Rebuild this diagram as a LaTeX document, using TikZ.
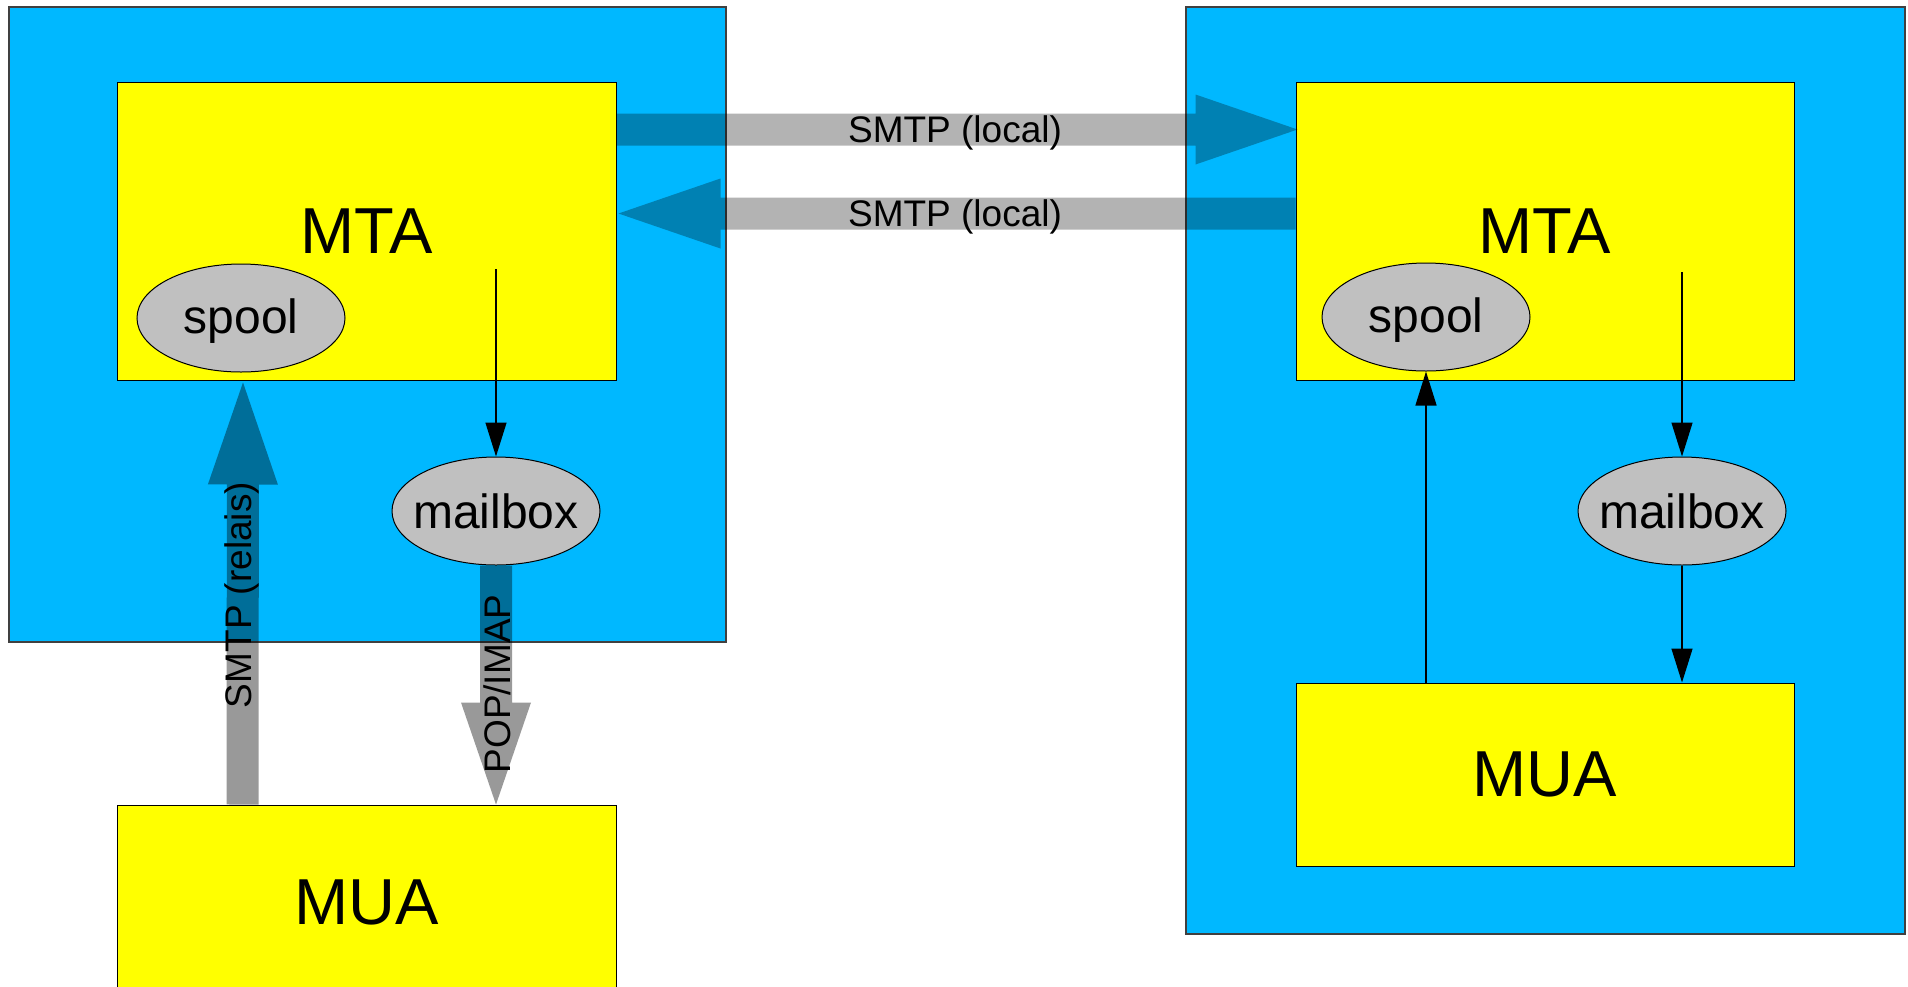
\documentclass[tikz,border=0pt]{standalone}
\usepackage{fontspec}
\setmainfont{Liberation Sans}
\usetikzlibrary{shapes.geometric,arrows.meta,calc}
\definecolor{boxblue}{RGB}{0,184,255}
\definecolor{agentyellow}{RGB}{255,255,0}
\definecolor{ovalgray}{RGB}{192,192,192}
\definecolor{lightarrow}{RGB}{179,179,179}
\definecolor{darkarrow}{RGB}{153,153,153}
\definecolor{hostedge}{RGB}{64,64,64}
\newcommand\fatarrow[3]{%
  \coordinate (fah) at ($(#2)!102pt!(#1)$);
  \fill[#3] ($(#1)!16pt!90:(#2)$) -- ($(fah)!16pt!90:(#2)$) -- ($(fah)!35pt!90:(#2)$) -- (#2)
    -- ($(fah)!35pt!-90:(#2)$) -- ($(fah)!16pt!-90:(#2)$) -- ($(#1)!16pt!-90:(#2)$) -- cycle;}
\begin{document}
\begin{tikzpicture}[x=1pt,y=-1pt,
  hostbox/.style={draw=hostedge, line width=1.3pt, fill=boxblue, inner sep=0pt, rectangle},
  agentbox/.style={draw=black, line width=1pt, fill=agentyellow, inner sep=0pt, rectangle, font=\fontsize{65}{78}\selectfont},
  store/.style={draw=black, line width=1pt, fill=ovalgray, ellipse, inner sep=0pt, minimum width=208pt, minimum height=108pt},
  storetext/.style={font=\fontsize{48}{58}\selectfont, inner sep=0pt},
  flow/.style={draw=black, line width=1.3pt, -{Triangle[length=34pt,width=21pt]}},
  fatlight/.style={fill=lightarrow},
  fatdark/.style={fill=darkarrow},
  proto/.style={font=\fontsize{37}{44}\selectfont, inner sep=0pt}]
\useasboundingbox (0,0) rectangle (1908,986);
% hosts
\node[hostbox, minimum width=717pt, minimum height=635pt] (hostL) at (367.5,324.5) {};
\node[hostbox, minimum width=719pt, minimum height=927pt] (hostR) at (1545.5,470.5) {};
% agents
\node[agentbox, minimum width=499pt, minimum height=298pt] (mtaL) at (366.5,231) {MTA};
\node[agentbox, minimum width=498pt, minimum height=298pt] (mtaR) at (1545,231) {MTA};
\node[agentbox, minimum width=499pt, minimum height=194pt] (muaL) at (366.5,902) {MUA};
\node[agentbox, minimum width=498pt, minimum height=183pt] (muaR) at (1545,774.5) {MUA};
% stores
\node[store] (spoolL) at (241,318) {};
\node[storetext] (spoolLt) at ($(spoolL.center)+(0,3)$) {spool};
\node[store] (spoolR) at (1426,317) {};
\node[storetext] (spoolRt) at ($(spoolR.center)+(0,3)$) {spool};
\node[store] (mailL) at (496,511) {};
\node[storetext] (mailLt) at (mailL.center) {mailbox};
\node[store] (mailR) at (1682,511) {};
\node[storetext] (mailRt) at (mailR.center) {mailbox};
% thin connectors
\coordinate (mtaLout) at (496,269);
\coordinate (mtaRout) at (1682,272);
\draw[flow] (mtaLout) -- (mailL.north);
\draw[flow] (mtaRout) -- (mailR.north);
\draw[flow] (mailR.south) -- (mailR.south |- muaR.north);
\draw[flow] (spoolR.south |- muaR.north) -- (spoolR.south);
% fat arrows
\coordinate (loc1s) at ($(mtaL.north east)+(0,48)$);
\coordinate (loc1t) at ($(mtaR.north west)+(2,48)$);
\coordinate (loc2s) at ($(mtaR.north west)+(0,132)$);
\coordinate (loc2t) at ($(mtaL.north east)+(2,132)$);
\coordinate (relS) at ($(muaL.north west)+(126,0)$);
\coordinate (relT) at ($(spoolL.south)+(2,10)$);
\coordinate (popT) at (mailL.south |- muaL.north);
\begin{scope}[blend mode=multiply]
\fatarrow{loc1s}{loc1t}{fatlight}
\fatarrow{loc2s}{loc2t}{fatlight}
\fatarrow{relS}{relT}{fatdark}
\fatarrow{mailL.south}{popT}{fatdark}
\end{scope}
% labels
\node[proto] (loc1lbl) at (955,133) {SMTP (local)};
\node[proto] (loc2lbl) at (955,217) {SMTP (local)};
\node[proto, rotate=90] (rellbl) at (242,595) {SMTP (relais)};
\node[proto, rotate=90] (poplbl) at (497,684) {POP/IMAP};
\end{tikzpicture}
\end{document}
